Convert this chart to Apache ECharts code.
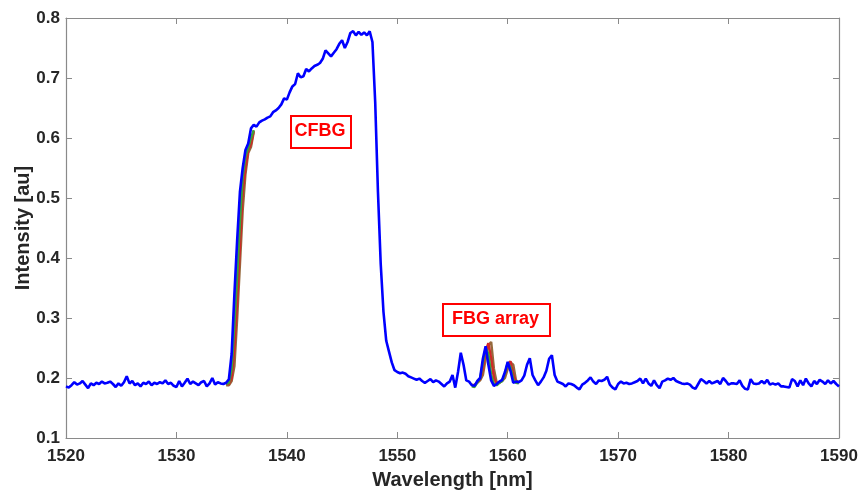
<!DOCTYPE html>
<html>
<head>
<meta charset="utf-8">
<script src="https://cdn.jsdelivr.net/npm/echarts@6/dist/echarts.min.js"></script>
<style>
  html, body { margin: 0; padding: 0; background: #ffffff; }
  #chart { width: 860px; height: 493px; }
</style>
</head>
<body>
<div id="chart"></div>
<script>
// ---- Data ----
// Main (blue) spectrum, sampled every 0.25 nm from 1520 nm to 1590 nm
const intensityBlue = [
  0.186,0.184,0.188,0.193,0.189,0.191,0.195,0.189,0.183,0.191,
  0.188,0.192,0.190,0.194,0.191,0.192,0.194,0.190,0.185,0.191,
  0.187,0.193,0.203,0.191,0.195,0.188,0.191,0.186,0.192,0.190,
  0.194,0.188,0.192,0.190,0.193,0.191,0.196,0.190,0.192,0.187,
  0.185,0.195,0.186,0.192,0.199,0.190,0.194,0.191,0.188,0.193,
  0.195,0.186,0.191,0.200,0.189,0.193,0.191,0.190,0.192,0.198,
  0.240,0.340,0.430,0.510,0.550,0.580,0.591,0.616,0.622,0.619,
  0.626,0.629,0.631,0.634,0.636,0.643,0.646,0.650,0.656,0.666,
  0.664,0.676,0.686,0.690,0.708,0.701,0.703,0.715,0.711,0.716,
  0.720,0.722,0.725,0.732,0.746,0.741,0.736,0.742,0.748,0.757,
  0.763,0.750,0.760,0.775,0.778,0.771,0.777,0.772,0.776,0.771,
  0.778,0.760,0.660,0.510,0.390,0.310,0.262,0.244,0.226,0.213,
  0.210,0.208,0.209,0.207,0.203,0.201,0.199,0.197,0.199,0.195,
  0.192,0.195,0.198,0.193,0.196,0.194,0.190,0.186,0.191,0.194,
  0.205,0.184,0.210,0.242,0.222,0.196,0.194,0.188,0.187,0.195,
  0.200,0.232,0.253,0.222,0.196,0.187,0.190,0.194,0.197,0.210,
  0.227,0.212,0.192,0.194,0.193,0.196,0.204,0.222,0.233,0.205,
  0.196,0.188,0.194,0.201,0.212,0.232,0.238,0.205,0.194,0.192,
  0.190,0.186,0.191,0.190,0.188,0.184,0.181,0.189,0.192,0.196,
  0.201,0.194,0.190,0.196,0.195,0.197,0.202,0.189,0.184,0.181,
  0.190,0.194,0.191,0.192,0.190,0.191,0.193,0.195,0.199,0.191,
  0.199,0.191,0.187,0.196,0.188,0.183,0.194,0.196,0.199,0.197,
  0.200,0.195,0.193,0.191,0.190,0.191,0.189,0.184,0.182,0.190,
  0.198,0.195,0.191,0.195,0.191,0.193,0.195,0.190,0.200,0.195,
  0.189,0.191,0.191,0.190,0.196,0.187,0.182,0.181,0.198,0.191,
  0.190,0.191,0.195,0.191,0.197,0.189,0.191,0.189,0.191,0.186,
  0.186,0.185,0.184,0.198,0.195,0.186,0.196,0.188,0.199,0.191,
  0.186,0.195,0.190,0.197,0.194,0.190,0.196,0.191,0.195,0.190,
  0.186
];
const wlStart = 1520;
const wlStep = 0.25;

// Other overlapping traces, visible only where they differ from the blue one
const edgeWl = [1534.5,1534.75,1535.0,1535.25,1535.5,1535.75,1536.0,1536.25,1536.5,1536.75,1537.0];
const edgeRed   = [0.190,0.190,0.200,0.250,0.330,0.420,0.510,0.550,0.580,0.590,0.612];
const edgeGreen = [0.190,0.192,0.215,0.290,0.370,0.460,0.535,0.570,0.583,0.600,0.613];
const edgeBrown = [0.188,0.188,0.195,0.220,0.300,0.390,0.480,0.540,0.575,0.585,0.610];

const fbgWl = [1556.75,1557.0,1557.25,1557.5,1557.75,1558.0,1558.25,1558.5,1558.75,1559.0,1559.25,1559.5,1559.75,1560.0,1560.25,1560.5,1560.75,1561.0];
const fbgRed   = [0.188,0.188,0.193,0.198,0.215,0.245,0.258,0.232,0.200,0.190,0.193,0.196,0.205,0.222,0.228,0.205,0.193,0.193];
const fbgGreen = [0.186,0.185,0.193,0.199,0.225,0.250,0.240,0.205,0.190,0.188,0.192,0.195,0.207,0.225,0.218,0.198,0.192,0.191];
const fbgBrown = [0.189,0.188,0.192,0.196,0.205,0.232,0.255,0.260,0.215,0.192,0.192,0.195,0.200,0.215,0.226,0.222,0.196,0.193];

const xTicks = [1520,1530,1540,1550,1560,1570,1580,1590];
const yTicks = [0.1,0.2,0.3,0.4,0.5,0.6,0.7,0.8];

const xName = 'Wavelength [nm]';
const yName = 'Intensity [au]';
const annotCFBG = 'CFBG';
const annotFBG = 'FBG array';

// ---- Build ----
const wavelengths = intensityBlue.map((_, i) => wlStart + wlStep * i);
const pairs = (xs, ys) => xs.map((x, i) => [x, ys[i]]);

const chart = echarts.init(document.getElementById('chart'), null, { renderer: 'canvas' });
const axisColor = '#8a8a8a';
const textColor = '#262626';
const fontFam = '"Liberation Sans", Arial, Helvetica, sans-serif';

function lineSeries(name, data, color, width) {
  return {
    name, type: 'line', data, showSymbol: false, symbol: 'none',
    lineStyle: { color, width }, itemStyle: { color },
    xAxisIndex: 0, yAxisIndex: 0, animation: false, silent: true
  };
}

const option = {
  animation: false,
  backgroundColor: '#ffffff',
  grid: { left: 66, right: 21, top: 18, bottom: 55, containLabel: false, outerBoundsMode: 'none' },
  xAxis: [
    {
      type: 'value', min: xTicks[0], max: xTicks[xTicks.length - 1], interval: 10,
      position: 'bottom',
      name: xName, nameLocation: 'middle', nameGap: 32, nameMoveOverlap: false,
      nameTextStyle: { color: textColor, fontSize: 20, fontWeight: 'bold', fontFamily: fontFam },
      axisLine: { show: true, onZero: false, lineStyle: { color: axisColor, width: 1.2 } },
      axisTick: { show: true, inside: true, length: 6, lineStyle: { color: axisColor } },
      axisLabel: { color: textColor, fontSize: 17, fontWeight: 'bold', fontFamily: fontFam, margin: 10,
                   formatter: v => String(v) },
      splitLine: { show: false }
    },
    {
      type: 'value', min: xTicks[0], max: xTicks[xTicks.length - 1], interval: 10,
      position: 'top',
      axisLine: { show: true, onZero: false, lineStyle: { color: axisColor, width: 1.2 } },
      axisTick: { show: true, inside: true, length: 6, lineStyle: { color: axisColor } },
      axisLabel: { show: false },
      splitLine: { show: false }
    }
  ],
  yAxis: [
    {
      type: 'value', min: yTicks[0], max: yTicks[yTicks.length - 1], interval: 0.1,
      position: 'left',
      name: yName, nameLocation: 'middle', nameGap: 33, nameRotate: 90, nameMoveOverlap: false,
      nameTextStyle: { color: textColor, fontSize: 20, fontWeight: 'bold', fontFamily: fontFam },
      axisLine: { show: true, onZero: false, lineStyle: { color: axisColor, width: 1.2 } },
      axisTick: { show: true, inside: true, length: 6, lineStyle: { color: axisColor } },
      axisLabel: { color: textColor, fontSize: 17, fontWeight: 'bold', fontFamily: fontFam, margin: 6,
                   formatter: v => v.toFixed(1) },
      splitLine: { show: false }
    },
    {
      type: 'value', min: yTicks[0], max: yTicks[yTicks.length - 1], interval: 0.1,
      position: 'right',
      axisLine: { show: true, onZero: false, lineStyle: { color: axisColor, width: 1.2 } },
      axisTick: { show: true, inside: true, length: 6, lineStyle: { color: axisColor } },
      axisLabel: { show: false },
      splitLine: { show: false }
    }
  ],
  series: [
    lineSeries('edge brown', pairs(edgeWl, edgeBrown), 'rgb(150,105,60)', 2.5),
    lineSeries('edge red', pairs(edgeWl, edgeRed), 'rgb(210,40,40)', 2.5),
    lineSeries('edge green', pairs(edgeWl, edgeGreen), 'rgb(60,160,60)', 2.5),
    lineSeries('fbg brown', pairs(fbgWl, fbgBrown), 'rgb(150,105,60)', 2.5),
    lineSeries('fbg red', pairs(fbgWl, fbgRed), 'rgb(210,40,40)', 2.5),
    lineSeries('fbg green', pairs(fbgWl, fbgGreen), 'rgb(60,160,60)', 2.5),
    lineSeries('spectrum', pairs(wavelengths, intensityBlue), '#0000ff', 2.6)
  ],
  graphic: [
    {
      type: 'rect', left: 290, top: 115, shape: { width: 60, height: 32 },
      style: { fill: '#ffffff', stroke: '#ff0000', lineWidth: 2 }, z: 100
    },
    {
      type: 'text',
      style: { text: annotCFBG, x: 320, y: 131, align: 'center', verticalAlign: 'middle',
               fill: '#ff0000', font: 'bold 18px "Liberation Sans", Arial, sans-serif' },
      z: 101
    },
    {
      type: 'rect', left: 442, top: 303, shape: { width: 107, height: 32 },
      style: { fill: '#ffffff', stroke: '#ff0000', lineWidth: 2 }, z: 100
    },
    {
      type: 'text',
      style: { text: annotFBG, x: 495.5, y: 319, align: 'center', verticalAlign: 'middle',
               fill: '#ff0000', font: 'bold 18px "Liberation Sans", Arial, sans-serif' },
      z: 101
    }
  ]
};
chart.setOption(option);
</script>
</body>
</html>
